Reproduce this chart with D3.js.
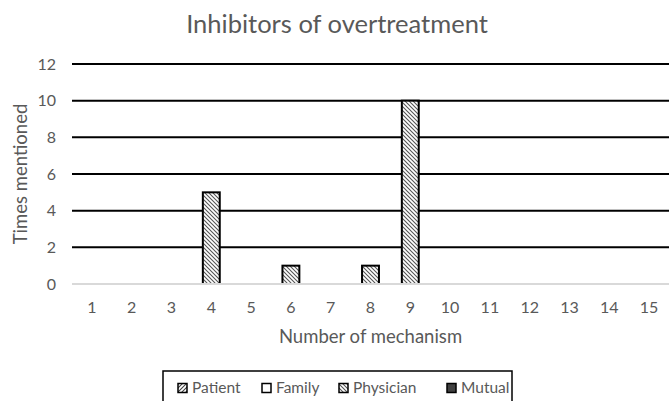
<!DOCTYPE html>
<html>
<head>
<meta charset="utf-8">
<script src="https://cdn.jsdelivr.net/npm/d3@7"></script>
<style>
  body { margin: 0; background: #fff; }
  svg text { font-family: Lato, "Open Sans", sans-serif; fill: #595959; }
</style>
</head>
<body>
<div id="chart"></div>
<script>
// categories 1..15, one series per actor
const mechanisms = ['1','2','3','4','5','6','7','8','9','10','11','12','13','14','15']
const seriesNames = ['Patient', 'Family', 'Physician', 'Mutual']
const patient   = [0,0,0,0,0,0,0,0,0,0,0,0,0,0,0]
const family    = [0,0,0,0,0,0,0,0,0,0,0,0,0,0,0]
const physician = [0,0,0,5,0,1,0,1,10,0,0,0,0,0,0]
const mutual    = [0,0,0,0,0,0,0,0,0,0,0,0,0,0,0]
const yTicks = [0,2,4,6,8,10,12]

const W = 669, H = 401
const margin = {top: 64, right: 0, bottom: 117, left: 72}

const svg = d3.select('div#chart')
    .append('svg')
    .attr('width', W)
    .attr('height', H);

// hatch patterns
const defs = svg.append('defs');
function hatch(id, dir, gap, col) {
    const p = defs.append('pattern')
        .attr('id', id)
        .attr('patternUnits', 'userSpaceOnUse')
        .attr('width', gap).attr('height', gap);
    p.append('rect').attr('width', gap).attr('height', gap).attr('fill', '#fff');
    const d = dir === 'down'
        ? `M0,0 L${gap},${gap} M${-gap},0 L${gap},${2*gap} M0,${-gap} L${2*gap},${gap}`
        : `M0,${gap} L${gap},0 M${-gap},${gap} L${gap},${-gap} M0,${2*gap} L${2*gap},0`;
    p.append('path').attr('d', d).attr('stroke', col).attr('stroke-width', 1.1);
}
hatch('pat-patient', 'up', 4, '#404040');
hatch('pat-physician', 'down', 4, '#555');

const fills = {
    Patient: 'url(#pat-patient)',
    Family: '#fff',
    Physician: 'url(#pat-physician)',
    Mutual: '#404040'
}

const rows = mechanisms.map((m, i) => ({
    m: m, Patient: patient[i], Family: family[i], Physician: physician[i], Mutual: mutual[i]
}));
const stacked = d3.stack().keys(seriesNames)(rows);

const x = d3.scaleBand()
    .domain(mechanisms)
    .range([margin.left, W - margin.right])
    .paddingInner(0.575)
    .paddingOuter(0.2875);

const y = d3.scaleLinear()
    .domain([0, 12])
    .range([H - margin.bottom, margin.top]);

// gridlines
svg.append('g')
    .selectAll('line')
    .data(yTicks.filter(d => d > 0))
    .enter()
    .append('line')
    .attr('x1', margin.left)
    .attr('x2', W)
    .attr('y1', d => y(d))
    .attr('y2', d => y(d))
    .attr('stroke', '#000')
    .attr('stroke-width', 2);

// bars
svg.append('g')
    .selectAll('g')
    .data(stacked)
    .enter()
    .append('g')
    .attr('fill', d => fills[d.key])
    .selectAll('rect')
    .data(d => d.filter(s => s[1] - s[0] > 0))
    .enter()
    .append('rect')
    .attr('x', d => x(d.data.m))
    .attr('y', d => y(d[1]))
    .attr('width', x.bandwidth())
    .attr('height', d => y(d[0]) - y(d[1]))
    .attr('stroke', '#000')
    .attr('stroke-width', 2);

// baseline
svg.append('line')
    .attr('x1', margin.left)
    .attr('x2', W)
    .attr('y1', y(0))
    .attr('y2', y(0))
    .attr('stroke', '#d9d9d9')
    .attr('stroke-width', 2);

// y ticks
svg.append('g')
    .selectAll('text')
    .data(yTicks)
    .enter()
    .append('text')
    .text(d => d)
    .attr('x', 56)
    .attr('y', d => y(d))
    .attr('dy', '0.35em')
    .attr('text-anchor', 'end')
    .style('font-size', '16px');

// x ticks
svg.append('g')
    .selectAll('text')
    .data(mechanisms)
    .enter()
    .append('text')
    .text(d => d)
    .attr('x', d => x(d) + x.bandwidth() / 2)
    .attr('y', 313)
    .attr('text-anchor', 'middle')
    .style('font-size', '16px');

// titles
svg.append('text')
    .text('Inhibitors of overtreatment')
    .attr('x', 337)
    .attr('y', 33)
    .attr('text-anchor', 'middle')
    .style('font-size', '25.5px');

svg.append('text')
    .text('Number of mechanism')
    .attr('x', (margin.left + W) / 2)
    .attr('y', 343)
    .attr('text-anchor', 'middle')
    .style('font-size', '18.5px');

svg.append('text')
    .text('Times mentioned')
    .attr('transform', `translate(27, ${y(6)}) rotate(-90)`)
    .attr('text-anchor', 'middle')
    .style('font-size', '18.5px');

// legend
const lg = svg.append('g');
lg.append('rect')
    .attr('x', 163).attr('y', 371)
    .attr('width', 349).attr('height', 40)
    .attr('fill', '#fff')
    .attr('stroke', '#000')
    .attr('stroke-width', 1.5);

const legendX = [178, 262, 339, 447];
const items = lg.selectAll('g.item')
    .data(seriesNames)
    .enter()
    .append('g')
    .attr('transform', (d, i) => `translate(${legendX[i]}, 388)`);
items.append('rect')
    .attr('x', 0).attr('y', -4.5)
    .attr('width', 9).attr('height', 9)
    .attr('fill', d => fills[d])
    .attr('stroke', '#000')
    .attr('stroke-width', 1.5);
items.append('text')
    .text(d => d)
    .attr('x', 14)
    .attr('dy', '0.35em')
    .style('font-size', '15.5px');
</script>
</body>
</html>
